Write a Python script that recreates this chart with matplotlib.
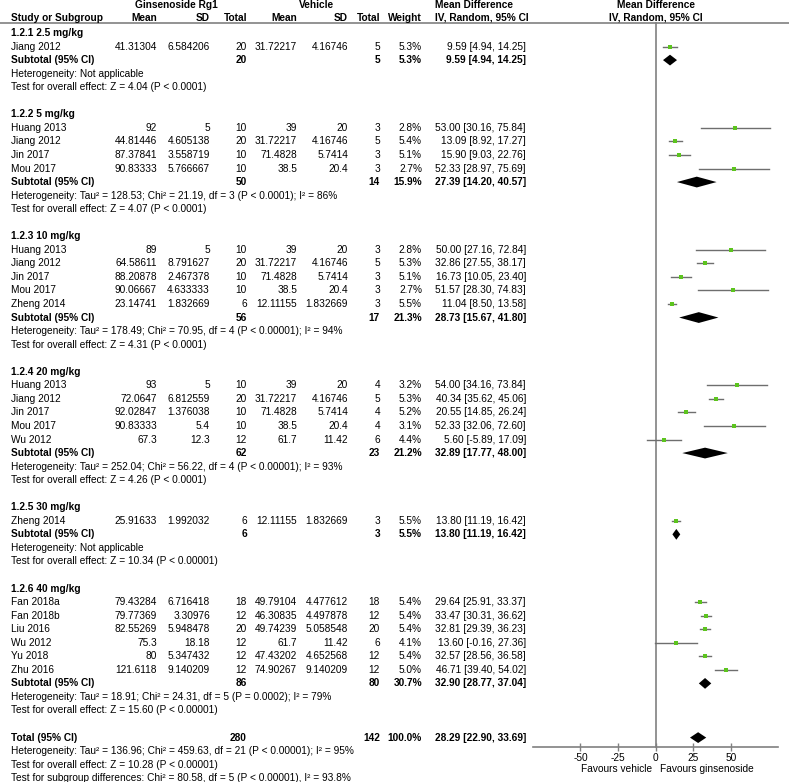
import matplotlib
matplotlib.use("Agg")
import matplotlib.pyplot as plt
from matplotlib.patches import Polygon

plt.rcParams['font.family'] = ['Liberation Sans', 'DejaVu Sans']
plt.rcParams['font.size'] = 7.3

# ---- data ----
group_names = ["1.2.1 2.5 mg/kg", "1.2.2 5 mg/kg", "1.2.3 10 mg/kg",
               "1.2.4 20 mg/kg", "1.2.5 30 mg/kg", "1.2.6 40 mg/kg"]

studies = [
    ["Jiang 2012"],
    ["Huang 2013", "Jiang 2012", "Jin 2017", "Mou 2017"],
    ["Huang 2013", "Jiang 2012", "Jin 2017", "Mou 2017", "Zheng 2014"],
    ["Huang 2013", "Jiang 2012", "Jin 2017", "Mou 2017", "Wu 2012"],
    ["Zheng 2014"],
    ["Fan 2018a", "Fan 2018b", "Liu 2016", "Wu 2012", "Yu 2018", "Zhu 2016"],
]
mean_e = [
    [41.31304],
    [92, 44.81446, 87.37841, 90.83333],
    [89, 64.58611, 88.20878, 90.06667, 23.14741],
    [93, 72.0647, 92.02847, 90.83333, 67.3],
    [25.91633],
    [79.43284, 79.77369, 82.55269, 75.3, 80, 121.6118],
]
sd_e = [
    [6.584206],
    [5, 4.605138, 3.558719, 5.766667],
    [5, 8.791627, 2.467378, 4.633333, 1.832669],
    [5, 6.812559, 1.376038, 5.4, 12.3],
    [1.992032],
    [6.716418, 3.30976, 5.948478, 18.18, 5.347432, 9.140209],
]
n_e = [[20], [10, 20, 10, 10], [10, 20, 10, 10, 6], [10, 20, 10, 10, 12], [6],
       [18, 12, 20, 12, 12, 12]]
mean_c = [
    [31.72217],
    [39, 31.72217, 71.4828, 38.5],
    [39, 31.72217, 71.4828, 38.5, 12.11155],
    [39, 31.72217, 71.4828, 38.5, 61.7],
    [12.11155],
    [49.79104, 46.30835, 49.74239, 61.7, 47.43202, 74.90267],
]
sd_c = [
    [4.16746],
    [20, 4.16746, 5.7414, 20.4],
    [20, 4.16746, 5.7414, 20.4, 1.832669],
    [20, 4.16746, 5.7414, 20.4, 11.42],
    [1.832669],
    [4.477612, 4.497878, 5.058548, 11.42, 4.652568, 9.140209],
]
n_c = [[5], [3, 5, 3, 3], [3, 5, 3, 3, 3], [4, 5, 4, 4, 6], [3], [18, 12, 20, 6, 12, 12]]
weight = [
    [5.3],
    [2.8, 5.4, 5.1, 2.7],
    [2.8, 5.3, 5.1, 2.7, 5.5],
    [3.2, 5.3, 5.2, 3.1, 4.4],
    [5.5],
    [5.4, 5.4, 5.4, 4.1, 5.4, 5.0],
]
md = [
    [9.59],
    [53.00, 13.09, 15.90, 52.33],
    [50.00, 32.86, 16.73, 51.57, 11.04],
    [54.00, 40.34, 20.55, 52.33, 5.60],
    [13.80],
    [29.64, 33.47, 32.81, 13.60, 32.57, 46.71],
]
ci_lo = [
    [4.94],
    [30.16, 8.92, 9.03, 28.97],
    [27.16, 27.55, 10.05, 28.30, 8.50],
    [34.16, 35.62, 14.85, 32.06, -5.89],
    [11.19],
    [25.91, 30.31, 29.39, -0.16, 28.56, 39.40],
]
ci_hi = [
    [14.25],
    [75.84, 17.27, 22.76, 75.69],
    [72.84, 38.17, 23.40, 74.83, 13.58],
    [73.84, 45.06, 26.24, 72.60, 17.09],
    [16.42],
    [33.37, 36.62, 36.23, 27.36, 36.58, 54.02],
]

sub_ne = [20, 50, 56, 62, 6, 86]
sub_nc = [5, 14, 17, 23, 3, 80]
sub_w = [5.3, 15.9, 21.3, 21.2, 5.5, 30.7]
sub_md = [9.59, 27.39, 28.73, 32.89, 13.80, 32.90]
sub_lo = [4.94, 14.20, 15.67, 17.77, 11.19, 28.77]
sub_hi = [14.25, 40.57, 41.80, 48.00, 16.42, 37.04]
sub_het = [
    "Heterogeneity: Not applicable",
    "Heterogeneity: Tau² = 128.53; Chi² = 21.19, df = 3 (P < 0.0001); I² = 86%",
    "Heterogeneity: Tau² = 178.49; Chi² = 70.95, df = 4 (P < 0.00001); I² = 94%",
    "Heterogeneity: Tau² = 252.04; Chi² = 56.22, df = 4 (P < 0.00001); I² = 93%",
    "Heterogeneity: Not applicable",
    "Heterogeneity: Tau² = 18.91; Chi² = 24.31, df = 5 (P = 0.0002); I² = 79%",
]
sub_test = [
    "Test for overall effect: Z = 4.04 (P < 0.0001)",
    "Test for overall effect: Z = 4.07 (P < 0.0001)",
    "Test for overall effect: Z = 4.31 (P < 0.0001)",
    "Test for overall effect: Z = 4.26 (P < 0.0001)",
    "Test for overall effect: Z = 10.34 (P < 0.00001)",
    "Test for overall effect: Z = 15.60 (P < 0.00001)",
]

total_ne, total_nc, total_w = 280, 142, 100.0
total_md, total_lo, total_hi = 28.29, 22.90, 33.69
total_notes = [
    "Heterogeneity: Tau² = 136.96; Chi² = 459.63, df = 21 (P < 0.00001); I² = 95%",
    "Test for overall effect: Z = 10.28 (P < 0.00001)",
    "Test for subgroup differences: Chi² = 80.58, df = 5 (P < 0.00001), I² = 93.8%",
]
xticks = [-50, -25, 0, 25, 50]

# ---- layout ----
W, H = 789, 782
GREY = "#808080"
GREEN = "#5cc41e"
FS = 7.3
col_right = [157, 210, 247, 297, 348, 380, 422, 526]
step = 13.55
half_h = 5.4

fig = plt.figure(figsize=(W / 100, H / 100), dpi=100)
ax = fig.add_axes([0, 0, 1, 1])
ax.set_xlim(0, W)
ax.set_ylim(H, 0)
ax.axis("off")

fx = fig.add_axes([533 / W, 0, 245 / W, 1])
fx.set_xlim(-81.5, 81.4)
fx.set_ylim(H, 0)
fx.patch.set_visible(False)
for s in ["top", "left", "right"]:
    fx.spines[s].set_visible(False)
fx.spines["bottom"].set_position(("data", 747))
fx.spines["bottom"].set_color(GREY)
fx.spines["bottom"].set_linewidth(1.2)
fx.set_yticks([])
fx.set_xticks(xticks)
fx.set_xticklabels([str(t) for t in xticks])
fx.tick_params(axis="x", direction="inout", length=6, width=1, color=GREY,
               labelsize=FS, pad=1)


def txt(x, y, s, ha="left", bold=False):
    ax.text(x, y, s, ha=ha, va="center", fontsize=FS,
            fontweight="bold" if bold else "normal")


def diamond(y, m, lo, hi):
    fx.add_patch(Polygon([(lo, y), (m, y - half_h), (hi, y), (m, y + half_h)],
                         closed=True, color="black", lw=0))


# header
txt(176, 5, "Ginsenoside Rg1", ha="center", bold=True)
txt(317, 5, "Vehicle", ha="center", bold=True)
txt(435, 5, "Mean Difference", bold=True)
fx.text(0, 5, "Mean Difference", ha="center", va="center", fontsize=FS, fontweight="bold")
txt(11, 18, "Study or Subgroup", bold=True)
for x, s in zip(col_right[:7], ["Mean", "SD", "Total", "Mean", "SD", "Total", "Weight"]):
    txt(x, 18, s, ha="right", bold=True)
txt(435, 18, "IV, Random, 95% CI", bold=True)
fx.text(0, 18, "IV, Random, 95% CI", ha="center", va="center", fontsize=FS, fontweight="bold")
ax.plot([0, W], [23, 23], color=GREY, lw=1.2)
fx.plot([0, 0], [23, 747], color=GREY, lw=1.2)

y = 33
for g in range(len(group_names)):
    txt(11, y, group_names[g], bold=True)
    y += step
    for i in range(len(studies[g])):
        vals = [str(mean_e[g][i]), str(sd_e[g][i]), str(n_e[g][i]),
                str(mean_c[g][i]), str(sd_c[g][i]), str(n_c[g][i]),
                f"{weight[g][i]:.1f}%",
                f"{md[g][i]:.2f} [{ci_lo[g][i]:.2f}, {ci_hi[g][i]:.2f}]"]
        txt(11, y, studies[g][i])
        for x, s in zip(col_right, vals):
            txt(x, y, s, ha="right")
        fx.plot([ci_lo[g][i], ci_hi[g][i]], [y, y], color="#6e6e6e", lw=1)
        fx.plot(md[g][i], y, marker="s", ms=2.3, color=GREEN, mew=0)
        y += step
    txt(11, y, "Subtotal (95% CI)", bold=True)
    txt(col_right[2], y, str(sub_ne[g]), ha="right", bold=True)
    txt(col_right[5], y, str(sub_nc[g]), ha="right", bold=True)
    txt(col_right[6], y, f"{sub_w[g]:.1f}%", ha="right", bold=True)
    txt(col_right[7], y, f"{sub_md[g]:.2f} [{sub_lo[g]:.2f}, {sub_hi[g]:.2f}]",
        ha="right", bold=True)
    diamond(y, sub_md[g], sub_lo[g], sub_hi[g])
    y += step
    txt(11, y, sub_het[g])
    y += step
    txt(11, y, sub_test[g])
    y += 2 * step

txt(11, y, "Total (95% CI)", bold=True)
txt(col_right[2], y, str(total_ne), ha="right", bold=True)
txt(col_right[5], y, str(total_nc), ha="right", bold=True)
txt(col_right[6], y, f"{total_w:.1f}%", ha="right", bold=True)
txt(col_right[7], y, f"{total_md:.2f} [{total_lo:.2f}, {total_hi:.2f}]", ha="right", bold=True)
diamond(y, total_md, total_lo, total_hi)
for note in total_notes:
    y += step
    txt(11, y, note)

fx.text(-2.5, 769, "Favours vehicle", ha="right", va="center", fontsize=FS)
fx.text(3, 769, "Favours ginsenoside", ha="left", va="center", fontsize=FS)

fig.savefig("out.png", dpi=100, facecolor="white")
